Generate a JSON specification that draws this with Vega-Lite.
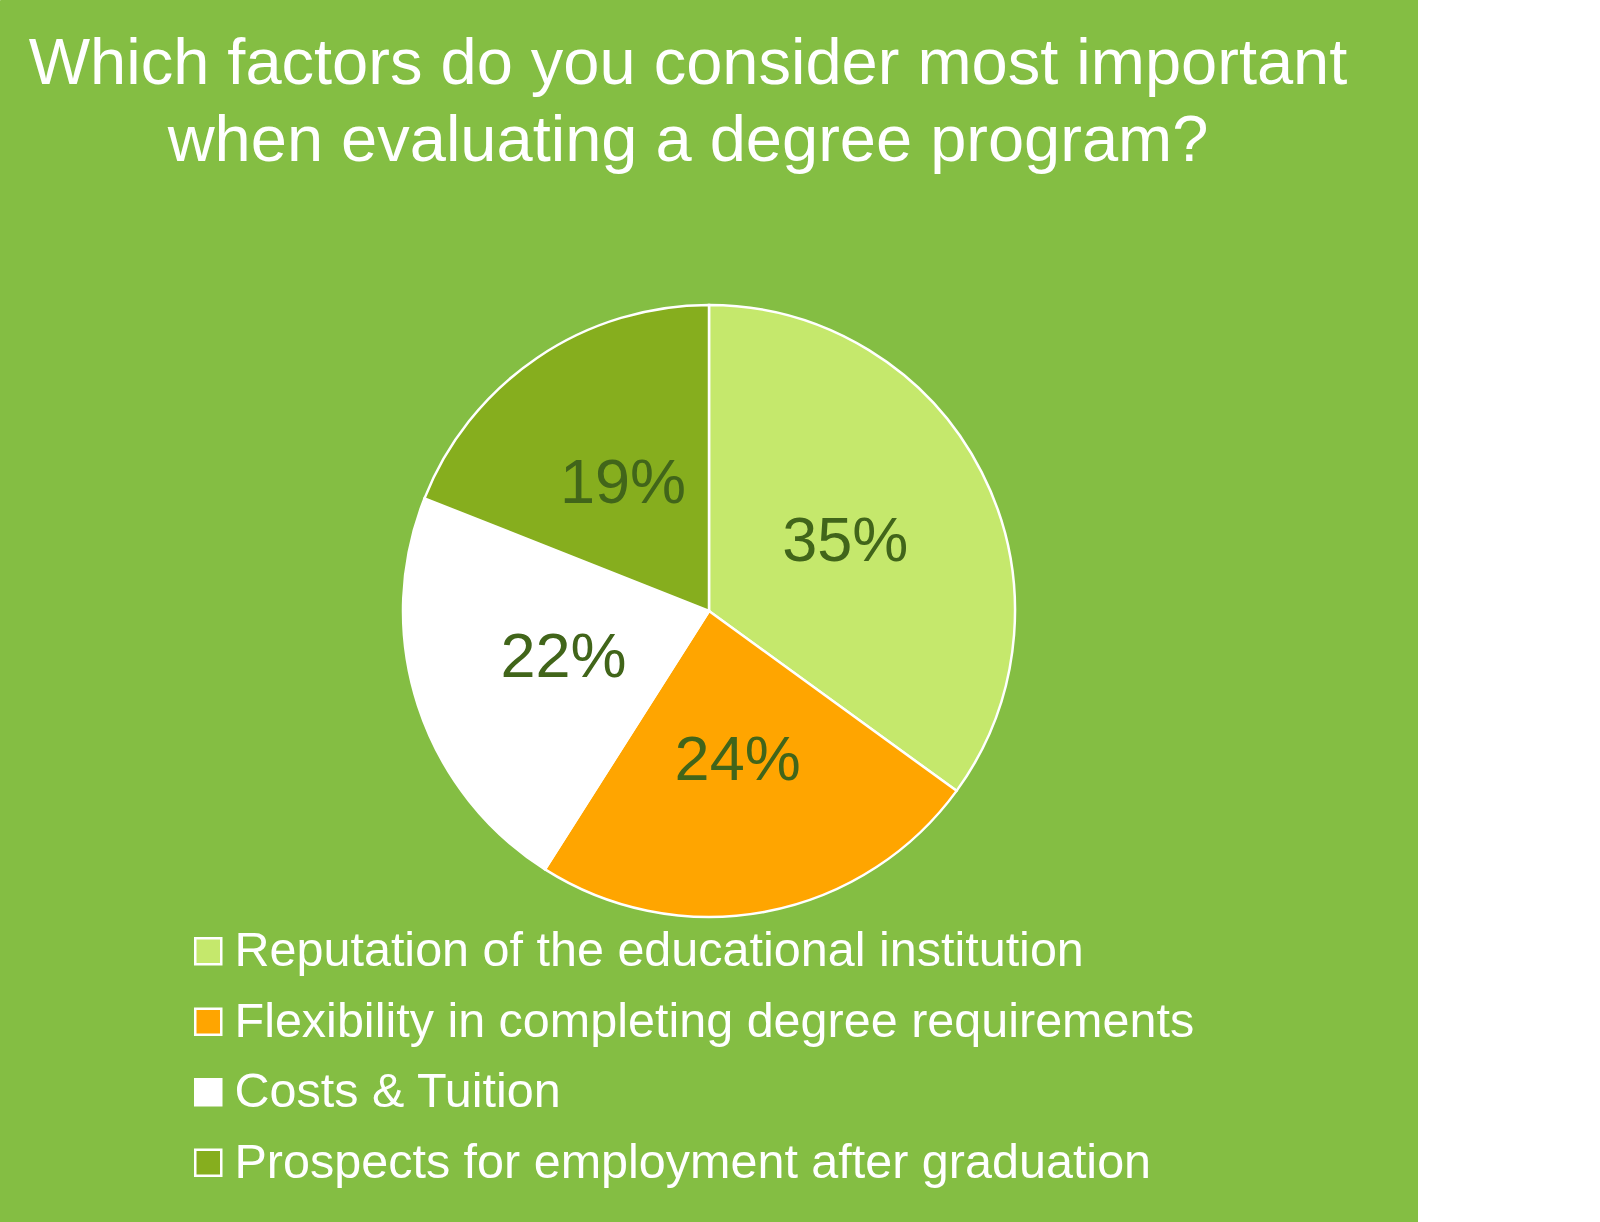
{
  "$schema": "https://vega.github.io/schema/vega-lite/v6.json",
  "width": 1418,
  "height": 1222,
  "autosize": {"type": "none"},
  "padding": 0,
  "background": "white",
  "view": {"fill": "#84be43", "stroke": "#84be43"},
  "config": {
    "font": "Liberation Sans"
  },
  "title": {
    "text": ["Which factors do you consider most important", "when evaluating a degree program?"],
    "fontSize": 65,
    "fontWeight": "normal",
    "color": "white",
    "font": "Liberation Sans",
    "anchor": "middle",
    "frame": "group",
    "lineHeight": 77,
    "baseline": "top",
    "offset": 0,
    "dy": 175,
    "dx": -21
  },
  "data": {
    "values": [
      {"factor": "Reputation of the educational institution", "share": 35, "label": "35%", "order": 1},
      {"factor": "Flexibility in completing degree requirements", "share": 24, "label": "24%", "order": 2},
      {"factor": "Costs & Tuition", "share": 22, "label": "22%", "order": 3},
      {"factor": "Prospects for employment after graduation", "share": 19, "label": "19%", "order": 4}
    ]
  },
  "encoding": {
    "theta": {"field": "share", "type": "quantitative", "stack": true},
    "order": {"field": "order", "type": "quantitative"}
  },
  "layer": [
    {
      "mark": {"type": "arc", "outerRadius": 306, "stroke": "white", "strokeWidth": 2.5},
      "encoding": {
        "color": {
          "field": "factor",
          "type": "nominal",
          "sort": null,
          "scale": {
            "domain": ["Reputation of the educational institution", "Flexibility in completing degree requirements", "Costs & Tuition", "Prospects for employment after graduation"],
            "range": ["#c5e86c", "#ffa500", "#ffffff", "#86ae1e"]
          },
          "legend": {
            "title": null,
            "orient": "none",
            "legendX": 184,
            "legendY": 927,
            "padding": 0,
            "symbolType": "square",
            "symbolSize": 676,
            "symbolStrokeColor": "white",
            "symbolStrokeWidth": 2.5,
            "symbolOpacity": 1,
            "labelFontSize": 48.5,
            "labelFont": "Liberation Sans",
            "labelColor": "white",
            "labelOffset": 2,
            "labelLimit": 1200,
            "rowPadding": 21.5
          }
        }
      }
    },
    {
      "mark": {"type": "text", "radius": 153, "fontSize": 63, "font": "Liberation Sans", "color": "#41651a"},
      "encoding": {
        "text": {"field": "label", "type": "nominal"}
      }
    }
  ]
}
